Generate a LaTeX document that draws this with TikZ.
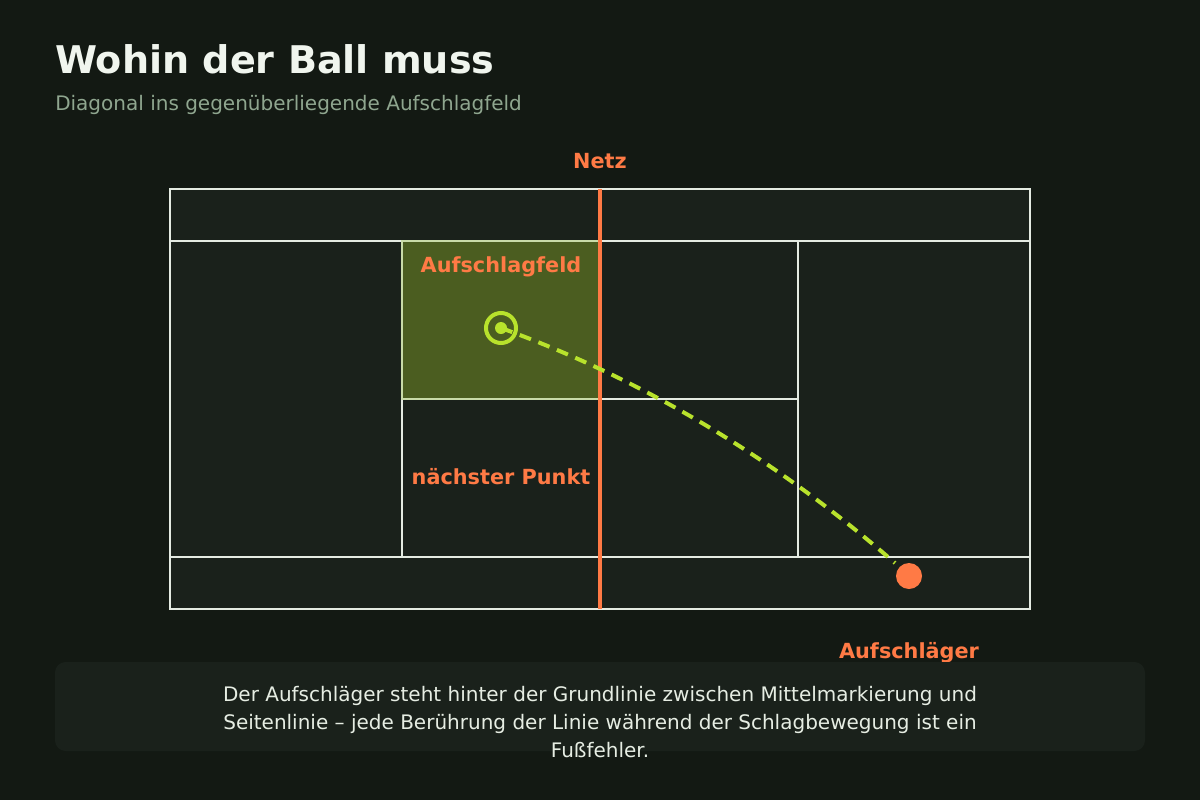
\documentclass[tikz,border=0pt]{standalone}
\usepackage{fontspec}
\setmainfont{DejaVu Sans}
\definecolor{bg}{HTML}{131913}
\definecolor{court}{HTML}{1A211B}
\definecolor{cline}{HTML}{E4EBE2}
\definecolor{orng}{HTML}{FF7A45}
\definecolor{lime}{HTML}{B8E22C}
\definecolor{boxfill}{HTML}{4B5D20}
\definecolor{boxline}{HTML}{C9DBA8}
\definecolor{titlec}{HTML}{F0F5EE}
\definecolor{subc}{HTML}{8FA68F}
\definecolor{notec}{HTML}{1A211B}
\definecolor{notetext}{HTML}{E6EDE3}
\tikzset{
  courtline/.style={draw=cline, line width=2pt},
  lbl/.style={text=orng, font=\bfseries\fontsize{15.6}{18}\selectfont, inner sep=0pt},
}
\begin{document}
\begin{tikzpicture}[x=0.75pt,y=-0.75pt]
\useasboundingbox (0,0) rectangle (1200,800);
\fill[bg] (0,0) rectangle (1200,800);
% title
\node[anchor=base west, inner sep=0pt, text=titlec, font=\bfseries\fontsize{28.6}{32}\selectfont] (title) at (55,73) {Wohin der Ball muss};
\node[anchor=base west, inner sep=0pt, text=subc, font=\fontsize{15}{18}\selectfont] (subtitle) at (55,110) {Diagonal ins gegenüberliegende Aufschlagfeld};
% court
\fill[court] (170,189) rectangle (1030,609);
\fill[boxfill] (402,241) rectangle (600,399);
\draw[courtline] (170,189) rectangle (1030,609);
\draw[courtline] (170,241) -- (1030,241);
\draw[courtline] (170,557) -- (1030,557);
\draw[courtline] (402,241) -- (402,557);
\draw[courtline] (798,241) -- (798,557);
\draw[courtline] (402,399) -- (798,399);
\draw[draw=boxline, line width=1.6pt] (402,241) rectangle (600,399);
% net
\node[lbl] (netzlbl) at (600,161) {Netz};
\coordinate (nettop) at (600,189);
\coordinate (netbot) at (600,609);
\draw[orng, line width=3.6pt] (nettop) -- (netbot);
% labels
\node[lbl] (feldlbl) at (501,267) {Aufschlagfeld};
\node[lbl] (punktlbl) at (501,477) {nächster Punkt};
\node[lbl] (serverlbl) at (909,653) {Aufschläger};
% target
\node[circle, draw=lime, line width=3pt, minimum size=22.5pt, inner sep=0pt] (target) at (501,328) {};
\fill[lime] (target.center) circle (6);
% ball
\node[circle, fill=orng, minimum size=19.5pt, inner sep=0pt] (ball) at (909,576) {};
\coordinate (landing) at (895,563);
% trajectory
\draw[lime, line width=3pt, dash pattern=on 9pt off 6pt] (target.center) .. controls (642,379) and (773,457) .. (landing);
% note box
\fill[notec, rounded corners=8pt] (55,662) rectangle (1145,751);
\node[align=center, inner sep=0pt, text=notetext, font=\fontsize{15}{21}\selectfont] (note) at (600,722) {Der Aufschläger steht hinter der Grundlinie zwischen Mittelmarkierung und\\Seitenlinie – jede Berührung der Linie während der Schlagbewegung ist ein\\Fußfehler.};
\end{tikzpicture}
\end{document}
